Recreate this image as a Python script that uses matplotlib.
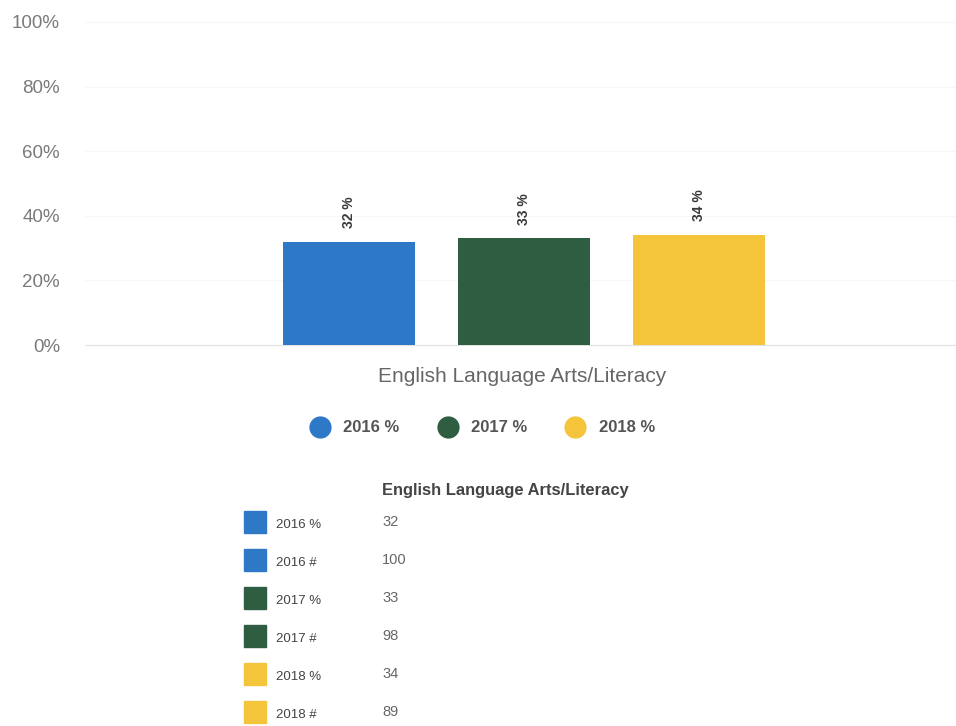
import matplotlib.pyplot as plt
from matplotlib.lines import Line2D
from matplotlib.patches import Rectangle

plt.rcParams['font.family'] = ['Liberation Sans', 'DejaVu Sans']

# Data
subject = "English Language Arts/Literacy"
years = ["2016 %", "2017 %", "2018 %"]
percents = [32, 33, 34]
counts = [100, 98, 89]
colors = ["#2e79c7", "#2f5d41", "#f4c43a"]
y_ticks = [0, 20, 40, 60, 80, 100]

fig = plt.figure(figsize=(9.56, 7.26), dpi=100)
W, H = 956, 726

# main bar chart
ax = fig.add_axes([85 / W, (H - 345) / H, 875 / W, 323 / H])
xs = range(len(percents))
ax.bar(xs, percents, width=0.754, color=colors, zorder=3)
ax.set_xlim(-1.509, 3.49)
ax.set_ylim(0, 100)
ax.set_yticks(y_ticks)
ax.set_yticklabels([f"{t}%" for t in y_ticks])
ax.tick_params(axis='y', length=0, pad=18, labelsize=13.5, labelcolor="#7a7a7a")
ax.set_xticks([])
for side in ["top", "right", "left"]:
    ax.spines[side].set_visible(False)
ax.spines["bottom"].set_color("#e2e2e2")
ax.grid(axis='y', color="#f7f7f7", linewidth=0.8, zorder=0)

for x, v in zip(xs, percents):
    ax.annotate(f"{v} %", (x, v), xytext=(0, 10), textcoords="offset points",
                rotation=90, ha="center", va="bottom", fontsize=10,
                fontweight="bold", color="#3a3a3a")

ax.set_xlabel(subject, fontsize=15, color="#666666", labelpad=16)

# legend with round markers
handles = [Line2D([], [], marker="o", linestyle="", markersize=15,
                  markerfacecolor=c, markeredgecolor=c) for c in colors]
fig.legend(handles, years, loc="center", bbox_to_anchor=(479 / W, (H - 428) / H),
           ncol=3, frameon=False, handletextpad=0.4, columnspacing=1.9,
           prop={"size": 12, "weight": "bold"}, labelcolor="#555555")

# data table below the chart
fig.text(382 / W, (H - 490) / H, subject, fontsize=11.9, fontweight="bold",
         color="#444444", va="center", ha="left")
rows = []
for lab, p, n, c in zip(years, percents, counts, colors):
    rows.append((lab, p, c))
    rows.append((lab.replace("%", "#"), n, c))
for i, (lab, val, c) in enumerate(rows):
    yc = H - (522 + 38 * i)
    fig.patches.append(Rectangle((244 / W, (yc - 11) / H), 22 / W, 22 / H,
                                 transform=fig.transFigure, color=c))
    fig.text(276 / W, (yc - 3) / H, lab, fontsize=9.5, color="#444444",
             va="center", ha="left")
    fig.text(382 / W, yc / H, str(val), fontsize=10.5, color="#666666",
             va="center", ha="left")

fig.savefig("out.png", dpi=100)
